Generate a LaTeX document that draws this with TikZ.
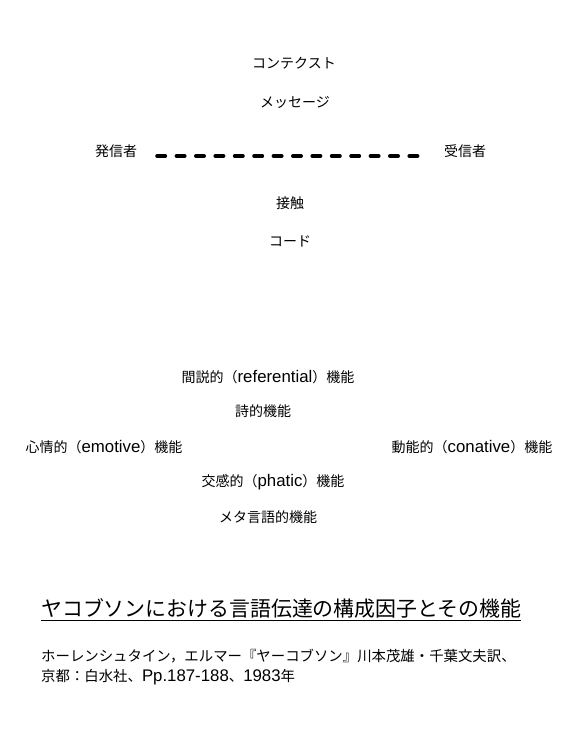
\documentclass[tikz,border=0pt]{standalone}
\usepackage{fontspec}
\setmainfont{Noto Sans CJK JP}
\newfontfamily\latf{Liberation Sans}
\newcommand\latin[1]{{\latf\fontsize{16.8}{18}\selectfont #1}}
\begin{document}
\begin{tikzpicture}[x=1pt,y=-1pt,
  lbl/.style={inner sep=0pt, font=\fontsize{14}{16}\selectfont},
  cite/.style={inner sep=0pt, font=\fontsize{14.4}{16}\selectfont},
  ttl/.style={inner sep=0pt, font=\fontsize{20.9}{24}\selectfont},
  link/.style={line width=4pt, line cap=round, dash pattern=on 8pt off 11.4pt}]
\useasboundingbox[fill=white] (0,0) rectangle (586,749);
\node[lbl] (context) at (294,63) {コンテクスト};
\node[lbl] (message) at (295,102) {メッセージ};
\node[lbl] (sender) at (116,151) {発信者};
\node[lbl] (receiver) at (465,151) {受信者};
\node[lbl] (contact) at (290,203) {接触};
\node[lbl] (code) at (290,241) {コード};
\draw[link, shorten <=20pt, shorten >=25pt] ([yshift=-5pt]sender.east) -- ([yshift=-5pt]receiver.west);

\node[lbl] (ref) at (268,377) {間説的（\latin{referential}）機能};
\node[lbl] (poet) at (263,411) {詩的機能};
\node[lbl] (emo) at (104,447) {心情的（\latin{emotive}）機能};
\node[lbl] (con) at (472,447) {動能的（\latin{conative}）機能};
\node[lbl] (phat) at (273,482) {交感的（\latin{phatic}）機能};
\node[lbl] (meta) at (268,517) {メタ言語的機能};

\node[ttl, anchor=west] (title) at (41,608) {ヤコブソンにおける言語伝達の構成因子とその機能};
\draw[line width=0.8pt] ([yshift=-2pt]title.south west) -- ([yshift=-2pt]title.south east);
\node[cite, anchor=west] (cite1) at (41,656) {ホーレンシュタイン，エルマー『ヤーコブソン』川本茂雄・千葉文夫訳、};
\node[cite, anchor=west] (cite2) at (41,677) {京都：白水社、\latin{Pp.187-188}、\latin{1983}年};
\end{tikzpicture}
\end{document}
